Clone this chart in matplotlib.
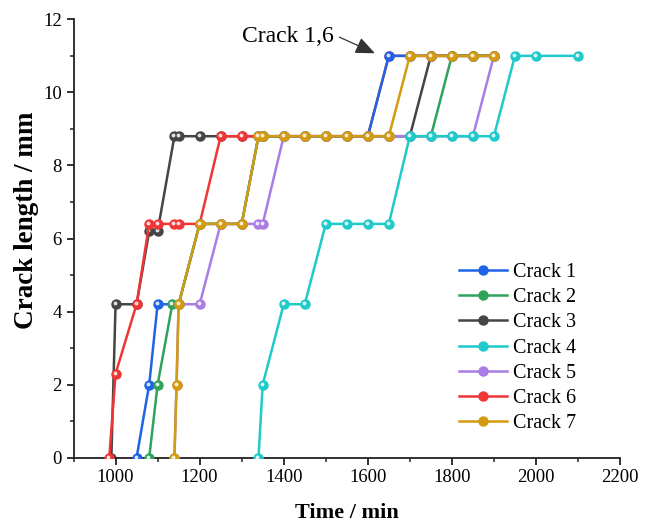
import matplotlib
matplotlib.use("Agg")
import matplotlib.pyplot as plt
import matplotlib.transforms as mtransforms
from matplotlib.ticker import MultipleLocator

plt.rcParams["font.family"] = ["Liberation Serif", "DejaVu Serif"]

# crack growth records: time (min) vs crack length (mm)
t1 = [1050, 1080, 1100, 1150, 1200, 1250, 1300, 1340, 1350, 1400, 1450, 1500, 1550, 1600,
      1650, 1700, 1750, 1800, 1850, 1900]
L1 = [0, 2, 4.2, 4.2, 6.4, 6.4, 6.4, 8.8, 8.8, 8.8, 8.8, 8.8, 8.8, 8.8,
      11, 11, 11, 11, 11, 11]

t2 = [1080, 1100, 1135, 1150, 1200, 1250, 1300, 1340, 1350, 1400, 1450, 1500, 1550, 1600,
      1650, 1700, 1750, 1800, 1850, 1900]
L2 = [0, 2, 4.2, 4.2, 6.4, 6.4, 6.4, 8.8, 8.8, 8.8, 8.8, 8.8, 8.8, 8.8,
      8.8, 8.8, 8.8, 11, 11, 11]

t3 = [990, 1000, 1050, 1080, 1100, 1140, 1150, 1200, 1250, 1300, 1350, 1400, 1450, 1500,
      1550, 1600, 1650, 1700, 1750, 1800, 1850, 1900]
L3 = [0, 4.2, 4.2, 6.2, 6.2, 8.8, 8.8, 8.8, 8.8, 8.8, 8.8, 8.8, 8.8, 8.8,
      8.8, 8.8, 8.8, 8.8, 11, 11, 11, 11]

t4 = [1340, 1350, 1400, 1450, 1500, 1550, 1600, 1650, 1700, 1750, 1800, 1850, 1900,
      1950, 2000, 2100]
L4 = [0, 2, 4.2, 4.2, 6.4, 6.4, 6.4, 6.4, 8.8, 8.8, 8.8, 8.8, 8.8,
      11, 11, 11]

t5 = [1140, 1145, 1150, 1200, 1250, 1300, 1340, 1350, 1400, 1450, 1500, 1550, 1600, 1650,
      1700, 1750, 1800, 1850, 1900]
L5 = [0, 2, 4.2, 4.2, 6.4, 6.4, 6.4, 6.4, 8.8, 8.8, 8.8, 8.8, 8.8, 8.8,
      8.8, 8.8, 8.8, 8.8, 11]

t6 = [985, 1000, 1050, 1080, 1100, 1140, 1150, 1200, 1250, 1300, 1350, 1400, 1450, 1500,
      1550, 1600, 1650, 1700, 1750, 1800, 1850, 1900]
L6 = [0, 2.3, 4.2, 6.4, 6.4, 6.4, 6.4, 6.4, 8.8, 8.8, 8.8, 8.8, 8.8, 8.8,
      8.8, 8.8, 11, 11, 11, 11, 11, 11]

t7 = [1140, 1145, 1150, 1200, 1250, 1300, 1340, 1350, 1400, 1450, 1500, 1550, 1600, 1650,
      1700, 1750, 1800, 1850, 1900]
L7 = [0, 2, 4.2, 6.4, 6.4, 6.4, 8.8, 8.8, 8.8, 8.8, 8.8, 8.8, 8.8, 8.8,
      11, 11, 11, 11, 11]

labels = ["Crack 1", "Crack 2", "Crack 3", "Crack 4", "Crack 5", "Crack 6", "Crack 7"]
series = [(t1, L1), (t2, L2), (t3, L3), (t4, L4), (t5, L5), (t6, L6), (t7, L7)]
colors = ["#1f63e6", "#2fa35c", "#454545", "#1fcaca", "#a97ce6", "#ef3535", "#d49b10"]
zorders = [4, 5, 2, 7, 6, 3, 8]

fig = plt.figure(figsize=(6.53, 5.22), dpi=100)
ax = fig.add_axes([0.1126, 0.1232, 0.8369, 0.8398])

# small white highlight on each marker, shifted up-left
hl = mtransforms.ScaledTranslation(-1 / 100, 1 / 100, fig.dpi_scale_trans)
for (t, L), c, lab, z in zip(series, colors, labels, zorders):
    ax.plot(t, L, "-o", color=c, lw=1.8, ms=6.5, mec=c, label=lab, zorder=z)
    ax.plot(t, L, "o", ls="none", color="white", ms=1.8, alpha=0.75,
            transform=ax.transData + hl, zorder=z + 0.1)

ax.set_xlim(900, 2200)
ax.set_ylim(0, 12)
ax.xaxis.set_major_locator(MultipleLocator(200))
ax.xaxis.set_minor_locator(MultipleLocator(100))
ax.yaxis.set_major_locator(MultipleLocator(2))
ax.yaxis.set_minor_locator(MultipleLocator(1))
ax.set_xticks([1000, 1200, 1400, 1600, 1800, 2000, 2200])
ax.spines["top"].set_visible(False)
ax.spines["right"].set_visible(False)
for s in ("left", "bottom"):
    ax.spines[s].set_linewidth(1.3)
    ax.spines[s].set_color("#222222")
ax.tick_params(which="major", length=5, width=1.3, labelsize=13.5, direction="out", color="#222222")
ax.tick_params(which="minor", length=3, width=1.1, direction="out", color="#222222")

ax.set_xlabel("Time / min", fontsize=16, fontweight="bold", labelpad=12)
ax.set_ylabel("Crack length / mm", fontsize=19.5, fontweight="bold")
ax.yaxis.set_label_coords(-0.064, 0.542)

ax.annotate("Crack 1,6", xy=(1617, 11.07), xytext=(1520, 11.52),
            ha="right", va="center", fontsize=17,
            arrowprops=dict(arrowstyle="-|>,head_length=0.7,head_width=0.3",
                            color="#333333", lw=0.9, relpos=(1.0, 0.6),
                            shrinkA=2, shrinkB=0))

ax.legend(loc="center", bbox_to_anchor=(0.7925, 0.3333), bbox_transform=fig.transFigure,
          frameon=False, fontsize=14.5, handlelength=2.4, handletextpad=0.3,
          labelspacing=0.3, borderpad=0)

fig.savefig("out.png", dpi=100)
